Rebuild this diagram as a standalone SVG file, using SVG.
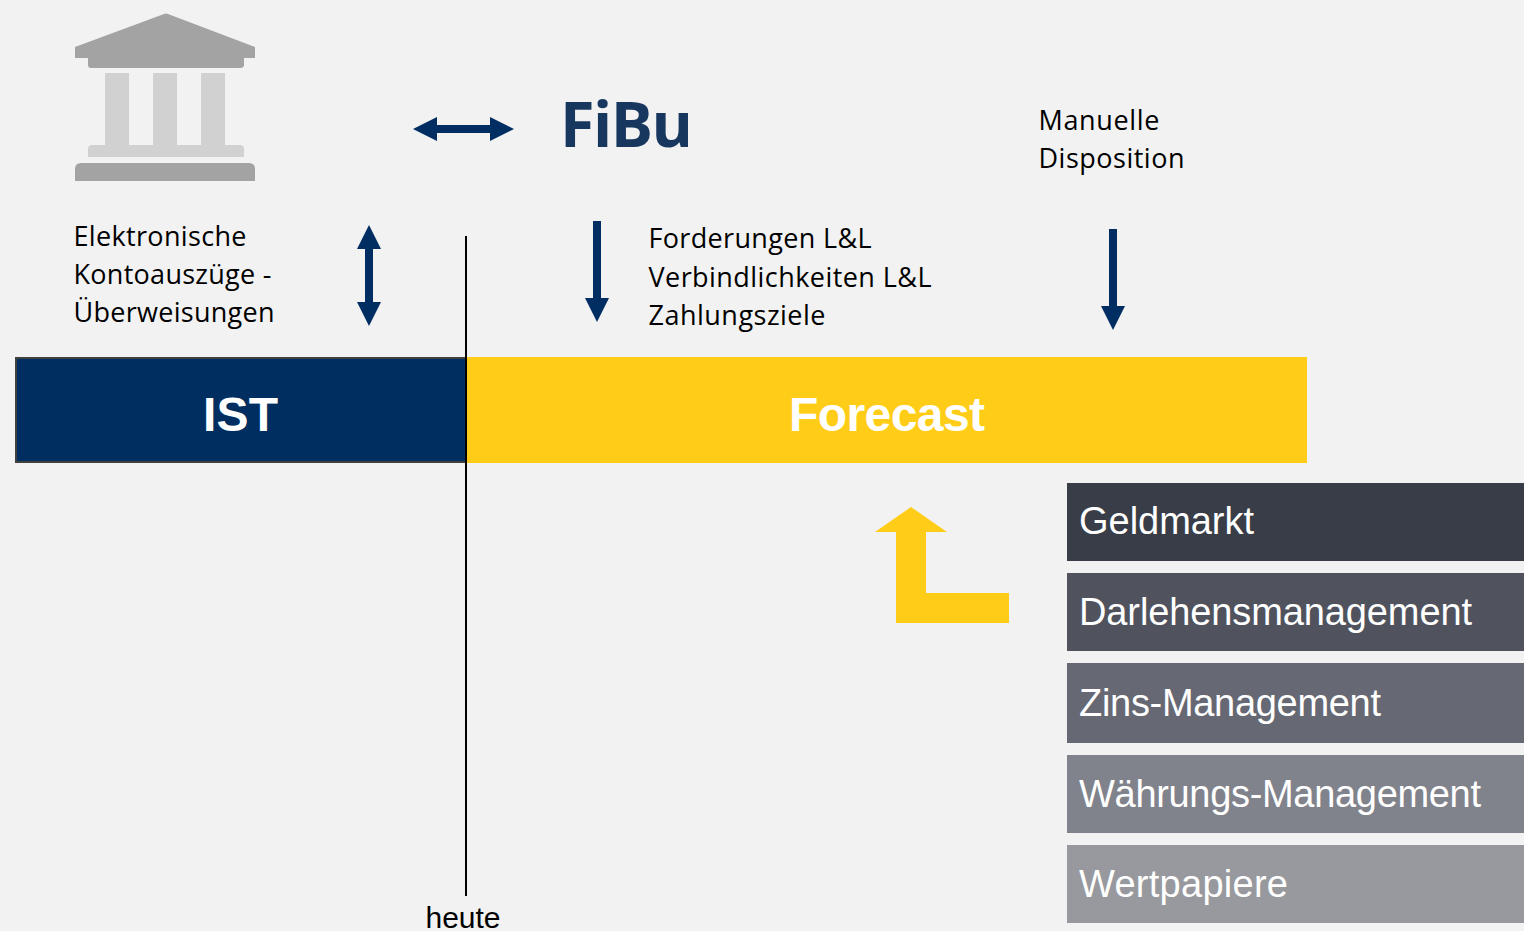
<svg xmlns="http://www.w3.org/2000/svg" width="1524" height="931" viewBox="0 0 1524 931">
<style>
.c{font-family:"Open Sans","Noto Sans",sans-serif;font-size:27px;fill:#000}
.a{font-family:"Liberation Sans",Arial,sans-serif;font-size:38px;fill:#fff}
.b{font-family:"Liberation Sans",Arial,sans-serif;font-size:48px;font-weight:bold;fill:#fff;text-anchor:middle}
.n{fill:#002e63}
</style>
<rect width="1524" height="931" fill="#f2f2f2"/>
<g id="bank">
<path d="M164 14 Q166 13 168 14 L255 47 V58 H244 V65 Q244 68 240 68 H91 Q88 68 88 65 V58 H75 V47 Z" fill="#a3a3a3"/>
<path d="M105 73 H129 V145 H153 V73 H177 V145 H201 V73 H225 V145 H240 Q244 145 244 149 V157 H88 V149 Q88 145 92 145 H105 Z" fill="#d1d1d1"/>
<path d="M75 181 V169 Q75 163 81 163 H249 Q255 163 255 169 V181 Z" fill="#a3a3a3"/>
</g>
<g id="connectors">
<path class="n" d="M413 129 L437 117 V125 H490 V117 L514 129 L490 141 V133 H437 V141 Z"/>
<path class="n" d="M369 225 L381 249 H373 V302 H381 L369 326 L357 302 H365 V249 H357 Z"/>
<path class="n" d="M593 221 H601 V298 H609 L597 322 L585 298 H593 Z"/>
<path class="n" d="M1109 229 H1117 V306 H1125 L1113 330 L1101 306 H1109 Z"/>
<path d="M911 507 L947 532 H926 V593 H1009 V623 H896 V532 H875 Z" fill="#ffcd17"/>
</g>
<g id="ist"><rect x="16" y="358" width="450" height="104" fill="#002e60" stroke="#404040" stroke-width="2"/><text class="b" x="240.500" y="431" textLength="75">IST</text></g>
<g id="forecast"><rect x="467" y="357" width="840" height="106" fill="#ffcd17"/><text class="b" x="887" y="431" textLength="196">Forecast</text></g>
<line id="heute-line" x1="466" y1="236" x2="466" y2="896" stroke="#000" stroke-width="2"/>
<g id="heute"><text x="463" y="928" font-family="Liberation Sans, Arial, sans-serif" font-size="30" text-anchor="middle" fill="#000" textLength="75">heute</text></g>
<g id="fibu"><text x="560" y="147" font-family="Open Sans, Noto Sans, sans-serif" font-size="63" font-weight="bold" fill="#17375e" textLength="133">FiBu</text></g>
<g id="manuelle"><text class="c" x="1038.500" y="130" textLength="121">Manuelle</text><text class="c" x="1038.500" y="168" textLength="146">Disposition</text></g>
<g id="elektronisch"><text class="c" x="73.500" y="246" textLength="173">Elektronische</text><text class="c" x="73.500" y="284" textLength="198">Kontoauszüge -</text><text class="c" x="73.500" y="322" textLength="201">Überweisungen</text></g>
<g id="forderungen"><text class="c" x="648.500" y="248" textLength="223">Forderungen L&amp;L</text><text class="c" x="648.500" y="287" textLength="283">Verbindlichkeiten L&amp;L</text><text class="c" x="648.500" y="325" textLength="177">Zahlungsziele</text></g>
<g id="geldmarkt"><rect x="1067" y="483" width="457" height="78" fill="#393d47"/><text class="a" x="1079" y="534" textLength="175">Geldmarkt</text></g>
<g id="darlehen"><rect x="1067" y="573" width="457" height="78" fill="#50535e"/><text class="a" x="1079" y="625" textLength="393">Darlehensmanagement</text></g>
<g id="zins"><rect x="1067" y="663" width="457" height="80" fill="#666873"/><text class="a" x="1079" y="716" textLength="302">Zins-Management</text></g>
<g id="waehrung"><rect x="1067" y="755" width="457" height="78" fill="#81838c"/><text class="a" x="1079" y="807" textLength="402">Währungs-Management</text></g>
<g id="wertpapiere"><rect x="1067" y="845" width="457" height="78" fill="#98999e"/><text class="a" x="1079" y="897" textLength="209">Wertpapiere</text></g>
</svg>
